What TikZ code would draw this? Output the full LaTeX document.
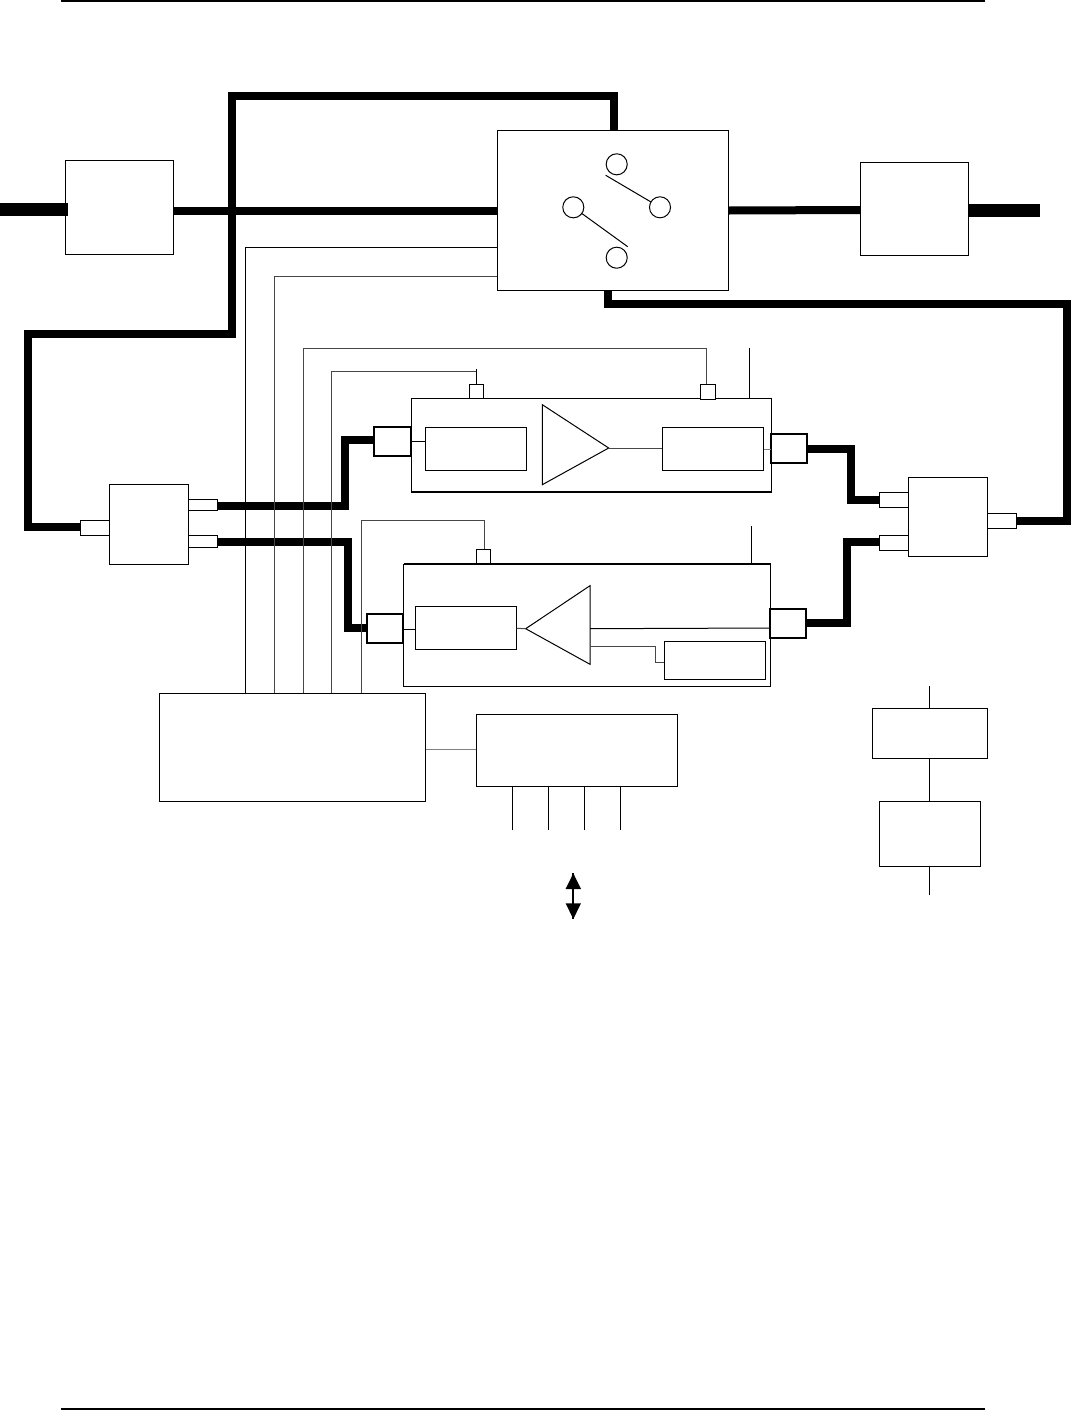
\documentclass[tikz,border=0pt]{standalone}
\usetikzlibrary{backgrounds}
\newcommand\bx[6][]{%
  \pgfmathsetmacro\bxw{(#5-#3)*0.75}%
  \pgfmathsetmacro\bxh{(#6-#4)*0.75}%
  \pgfmathsetmacro\bxcx{(#3+#5)/2}%
  \pgfmathsetmacro\bxcy{(#4+#6)/2}%
  \node[blk,#1,minimum width=\bxw pt,minimum height=\bxh pt] (#2) at (\bxcx,\bxcy) {};}
\tikzset{
  blk/.style={draw=black,fill=white,line width=0.75pt,inner sep=0pt,outer sep=0pt},
  heavyport/.style={line width=1.4pt},
  disc/.style={circle,draw=black,fill=white,line width=0.75pt,inner sep=0pt,outer sep=0pt,minimum size=15.8pt},
  sig/.style={line width=0.75pt,draw=black},
  siggrey/.style={line width=0.75pt,draw=black!72},
  siglight/.style={line width=0.75pt,draw=black!50},
  bus/.style={line width=6pt,draw=black,line join=miter},
  fatbus/.style={line width=9.4pt,draw=black},
  rule/.style={line width=1.5pt,draw=black},
  shaft/.style={line width=1.5pt,draw=black},
  head/.style={fill=black,draw=none}
}
\begin{document}
\begin{tikzpicture}[x=0.75pt,y=-0.75pt]
\useasboundingbox (0,0) rectangle (1071,1410);
% header / footer rules
\coordinate (hl) at (61,1); \coordinate (hr) at (985,1);
\coordinate (fl) at (61,1409); \coordinate (fr) at (985,1409);
\draw[rule] (hl) -- (hr);
\draw[line width=1pt] (fl) -- (fr);

% free ends
\coordinate (inL) at (0,209.3);
\coordinate (inLe) at (68,209.3);
\coordinate (outR) at (1040,210.3);
\coordinate (ctlA) at (749.3,348.3);
\coordinate (ctlB) at (751.3,525.7);
\coordinate (pA) at (929.3,686);
\coordinate (pB) at (929.3,895.3);

% blocks
\bx{ctrl}{159.3}{693.3}{425.5}{801}
\bx{iface}{476.3}{714.3}{677.7}{786.3}
\bx{boxA}{65.3}{160.3}{173.7}{254.3}
\bx{boxB}{860.3}{162.3}{968.3}{255.3}
\bx{sw}{497.3}{130.3}{728.7}{290}
\bx{splitL}{109.3}{484.3}{188.3}{564.3}
\bx{splitR}{908.3}{477.3}{987.3}{556.3}
\bx{pLa}{80.3}{520.3}{109.3}{535.3}
\bx{pLb}{188.3}{499.3}{217.7}{510.3}
\bx{pLc}{188.3}{535.3}{217.7}{547.3}
\bx{pRa}{879.3}{492.3}{908.3}{507.3}
\bx{pRb}{879.3}{535.3}{908.3}{550.3}
\bx{pRc}{987.3}{513.7}{1016.7}{528.3}
\bx{ampT}{411.3}{398.3}{771.7}{492}
\bx{ampB}{403.7}{564}{770.7}{686.3}
\bx{sqA}{469.3}{384.3}{483.7}{398.3}
\bx{sqB}{700.3}{384.3}{715.7}{399}
\bx{sqC}{476.3}{549.3}{490.7}{564}
\bx[heavyport]{iA}{373.7}{426.7}{410.7}{456}
\bx[heavyport]{oA}{770.7}{434}{807.3}{463}
\bx[heavyport]{iB}{366.7}{613.7}{403.3}{643}
\bx[heavyport]{oB}{769.7}{608.7}{806.3}{638}
\bx{fA}{425.3}{427.3}{526.7}{470.3}
\bx{gA}{662.3}{427.3}{763.7}{470.3}
\bx{fB}{415.3}{606.3}{516.7}{649.7}
\bx{gB}{664.3}{641.7}{765.7}{679.7}
\bx{psu}{872.3}{708.3}{987.7}{758.3}
\bx{reg}{879.3}{801.3}{980.3}{866.3}

% wires, under the blocks
\begin{scope}[on background layer]
\draw[bus] (boxA.east |- 0,211) -- (sw.west |- 0,211);
\draw[bus] (sw.east |- 0,210.5) -- (boxB.west |- 0,210);
\draw[bus] (614,130.3) -- (614,96) -- (231.7,96) -- (231.7,334.3) -- (28.3,334.3) -- (28.3,526.7) -- (pLa.west |- 0,526.7);
\draw[bus] (pRc.east |- 0,520.8) -- (1066.5,520.8) -- (1066.5,304) -- (607.5,304) -- (607.5,290);
\draw[bus] (pLb.east |- 0,506.3) -- (345,506.3) -- (345,440) -- (iA.west |- 0,440);
\draw[bus] (pLc.east |- 0,542.3) -- (347.5,542.3) -- (347.5,628.3) -- (iB.west |- 0,628.3);
\draw[bus] (oA.east |- 0,449) -- (851,449) -- (851,499.7) -- (pRa.west |- 0,499.7);
\draw[bus] (pRb.west |- 0,542) -- (847,542) -- (847,623) -- (oB.east |- 0,623);
\draw[sig] (ctrl.north -| 245.7,0) -- (245.7,247.3) -- (sw.west |- 0,247.3);
\draw[siggrey] (ctrl.north -| 274.7,0) -- (274.7,276.7) -- (sw.west |- 0,276.7);
\draw[siggrey] (ctrl.north -| 303.3,0) -- (303.3,348.3) -- (706.7,348.3) -- (sqB.north -| 706.7,0);
\draw[siggrey] (ctrl.north -| 331.5,0) -- (331.5,371.7) -- (476.5,371.7);
\draw[sig] (sqA.north) -- (476.5,369.3);
\draw[siggrey] (ctrl.north -| 361,0) -- (361,520.7) -- (484,520.7) -- (sqC.north -| 484,0);
\draw[sig] (ampT.north -| ctlA) -- (ctlA);
\draw[sig] (ampB.north -| ctlB) -- (ctlB);
\draw[siglight] (ctrl.east |- 0,749.7) -- (iface.west |- 0,749.7);
\end{scope}

% thick stubs that lap over the end blocks
\draw[fatbus] (inL) -- (inLe);
\draw[fatbus] (boxB.east |- outR) -- (outR);

% amplifier internals: top
\coordinate (triAa) at (542.3,404.7);
\coordinate (triAb) at (608.7,448);
\coordinate (triAc) at (542.3,484.7);
\draw[line width=0.75pt,fill=white] (triAa) -- (triAb) -- (triAc) -- cycle;
\draw[sig] (ampT.west |- 0,441.3) -- (fA.west |- 0,441.3);
\draw[siggrey] (triAb) -- (gA.west |- triAb);
\draw[siglight] (gA.east |- 0,449.7) -- (oA.west |- 0,449.7);
\draw[line width=1.2pt] (ampT.south west) -- (ampT.south east);

% amplifier internals: bottom
\coordinate (triBa) at (525.7,628.7);
\coordinate (triBb) at (590,585.7);
\coordinate (triBc) at (590,664.3);
\draw[line width=0.75pt,fill=white] (triBa) -- (triBb) -- (triBc) -- cycle;
\draw[sig] (iB.east |- 0,629.3) -- (fB.west |- 0,629.3);
\draw[siggrey] (fB.east |- 0,628.3) -- (triBa);
\draw[sig] (590,628.7) -- (oB.west |- 0,628);
\draw[siggrey] (590,646) -- (655,646) -- (655,662.3) -- (gB.west |- 0,662.3);
\draw[line width=1.2pt] (ampB.north west) -- (ampB.north east);

% switch internals
\coordinate (armT) at (605.7,175.3);
\coordinate (armB) at (627.7,246.7);
\coordinate (cRc) at (660,207.3);
\coordinate (cLc) at (573.3,207.3);
\draw[sig] (armT) -- (cRc);
\draw[sig] (cLc) -- (armB);
\node[disc] (cT) at (616.7,164.3) {};
\node[disc] (cL) at (cLc) {};
\node[disc] (cR) at (cRc) {};
\node[disc] (cB) at (616.7,257.7) {};

% interface pins
\foreach \px/\nm in {512.3/a,548.3/b,584.3/c,620.3/d}{
  \coordinate (pin\nm) at (\px,829.7);
  \draw[sig] (iface.south -| pin\nm) -- (pin\nm);
}

% double arrow
\coordinate (arT) at (573.3,873.3);
\coordinate (arB) at (573.3,919);
\draw[shaft] (arT) -- (arB);
\fill[head] (arT) -- (581,889) -- (565.6,889) -- cycle;
\fill[head] (arB) -- (581,903.3) -- (565.6,903.3) -- cycle;

% power stack
\draw[sig] (pA) -- (psu.north -| pA);
\draw[sig] (psu.south -| pA) -- (reg.north -| pA);
\draw[sig] (reg.south -| pA) -- (pB);
\end{tikzpicture}
\end{document}
